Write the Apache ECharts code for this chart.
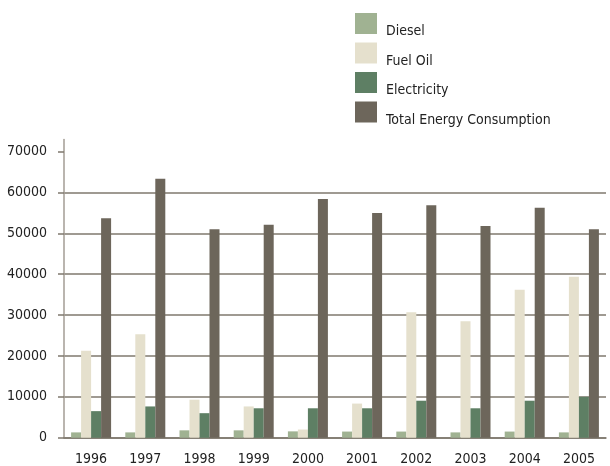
<!DOCTYPE html>
<html>
<head>
<meta charset="utf-8">
<script src="https://cdn.jsdelivr.net/npm/echarts@6/dist/echarts.min.js"></script>
<style>
html,body{margin:0;padding:0;background:#fff;}
#chart{width:610px;height:466px;}
</style>
</head>
<body>
<div id="chart"></div>
<script>
const years = ['1996','1997','1998','1999','2000','2001','2002','2003','2004','2005'];
const diesel = [1300,1300,1800,1800,1550,1500,1500,1300,1500,1300];
const fuelOil = [21300,25300,9300,7650,2000,8350,30700,28500,36200,39400];
const electricity = [6500,7650,6000,7200,7200,7200,9050,7200,9050,10000];
const totalEnergy = [53700,63400,51000,52100,58400,55000,56900,51800,56300,51000];
const yTicks = [0,10000,20000,30000,40000,50000,60000,70000];
const seriesNames = ['Diesel','Fuel Oil','Electricity','Total Energy Consumption'];

const FONT = '"DejaVu Sans Condensed", "DejaVu Sans", sans-serif';
const colors = ['#a0b292','#e5e0cd','#5e7f64','#6d665b'];
const lineColor = '#7f786e';

const chart = echarts.init(document.getElementById('chart'), null, {renderer:'canvas'});
const mk = (name, data, i) => ({
  name, type:'bar', data, barWidth:10, barGap:'0%',
  itemStyle:{color:colors[i]}, emphasis:{disabled:true}
});
chart.setOption({
  animation:false,
  color: colors,
  legend:{
    orient:'vertical', left:355, top:13, padding:0,
    itemWidth:22, itemHeight:21, itemGap:4,
    icon:'rect',
    data: seriesNames,
    formatter: '{a|{name}}',
    textStyle:{fontFamily:FONT, fontSize:14, color:'#222',
      rich:{a:{fontFamily:FONT, fontSize:14, color:'#222', padding:[16,0,0,4]}}}
  },
  grid:{left:64, right:4, top:139.4, bottom:466-437.7, containLabel:false, outerBoundsMode:'none'},
  xAxis:{
    type:'category', data:years,
    axisLine:{show:true, lineStyle:{color:lineColor, width:1.5}},
    axisTick:{show:false},
    axisLabel:{fontFamily:FONT, fontSize:14, color:'#222', margin:15}
  },
  yAxis:{
    type:'value', min:0, max:73000, interval:10000,
    axisLine:{show:true, lineStyle:{color:'#a39d94', width:1.5}},
    axisTick:{show:true, length:6, customValues: yTicks, lineStyle:{color:lineColor, width:1.5}},
    axisLabel:{fontFamily:FONT, fontSize:14, color:'#222', margin:17, customValues: yTicks,
      formatter: v => String(v)},
    splitLine:{show:true, showMaxLine:false, lineStyle:{color:lineColor, width:1.5}}
  },
  series:[
    mk(seriesNames[0], diesel, 0),
    mk(seriesNames[1], fuelOil, 1),
    mk(seriesNames[2], electricity, 2),
    mk(seriesNames[3], totalEnergy, 3)
  ]
});
</script>
</body>
</html>
